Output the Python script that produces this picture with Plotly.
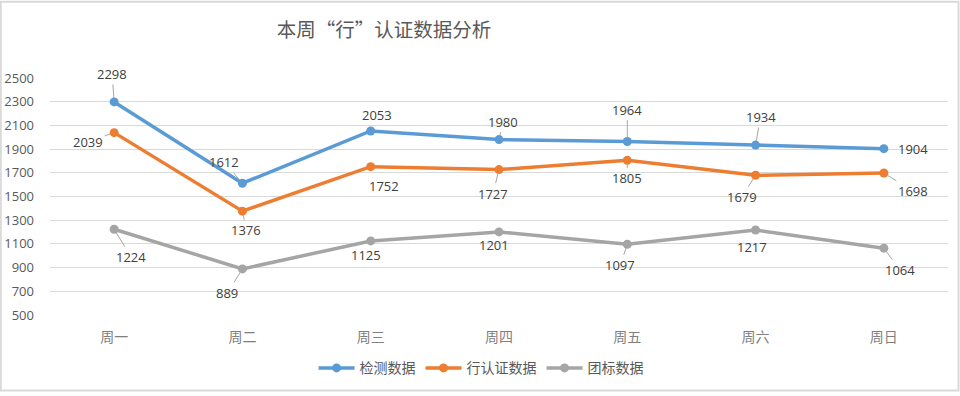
import plotly.graph_objects as go

days = ["周一", "周二", "周三", "周四", "周五", "周六", "周日"]
series_names = ["检测数据", "行认证数据", "团标数据"]
jiance = [2298, 1612, 2053, 1980, 1964, 1934, 1904]
xing = [2039, 1376, 1752, 1727, 1805, 1679, 1698]
tuanbiao = [1224, 889, 1125, 1201, 1097, 1217, 1064]
colors = ["#5B9BD5", "#ED7D31", "#A5A5A5"]
y_ticks = list(range(500, 2501, 200))
title_text = "本周“行”认证数据分析"

# label offsets (px) and leader-line visibility, per series/point
offsets = [
    [(-2, -28, True), (-18, -21, True), (6, -16, False), (4, -18, True), (0, -32, True), (5, -28, True), (29, 0, False)],
    [(-26, 9, True), (4, 19, True), (13, 19, True), (-6, 24, True), (0, 18, True), (-14, 22, True), (29, 18, True)],
    [(17, 28, True), (-15, 24, True), (-5, 14, False), (-5, 13, False), (-7, 21, True), (-4, 17, False), (16, 22, True)],
]

all_series = [jiance, xing, tuanbiao]
label_font = dict(family="Open Sans, Liberation Sans, sans-serif", size=13, color="#404040")

fig = go.Figure()
for name, vals, col in zip(series_names, all_series, colors):
    fig.add_trace(go.Scatter(
        x=days, y=vals, name=name, mode="lines+markers",
        line=dict(color=col, width=3.5),
        marker=dict(color=col, size=9),
    ))

annotations = []
for vals, offs in zip(all_series, offsets):
    for d, v, (ax, ay, show) in zip(days, vals, offs):
        if show:
            annotations.append(dict(
                x=d, y=v, xref="x", yref="y", text=str(v),
                showarrow=True, arrowhead=0, arrowwidth=1, arrowcolor="#A6A6A6",
                standoff=4, ax=ax, ay=ay, font=label_font,
            ))
        else:
            annotations.append(dict(
                x=d, y=v, xref="x", yref="y", text=str(v), showarrow=False,
                xshift=ax, yshift=-ay, font=label_font,
            ))

fig.update_layout(
    width=960, height=396,
    margin=dict(l=50, r=12, t=78, b=78),
    paper_bgcolor="white", plot_bgcolor="white",
    title=dict(text=title_text, x=0.4, xanchor="center", y=0.924, yanchor="middle",
               font=dict(family="Noto Sans CJK SC", size=19.5, color="#595959")),
    xaxis=dict(type="category", range=[-0.5, 6.5], showgrid=False, showline=False, ticks="",
               automargin=False,
               tickfont=dict(family="Noto Sans CJK SC", size=14, color="#7F7F7F"),
               ticklabelstandoff=12),
    yaxis=dict(range=[500, 2500], tickvals=y_ticks, showgrid=True, gridcolor="#D9D9D9",
               gridwidth=1, zeroline=False, showline=False, ticks="", automargin=False,
               tickfont=dict(family="Open Sans, Liberation Sans, sans-serif", size=13, color="#595959"),
               ticklabelstandoff=15),
    legend=dict(orientation="h", x=0.48, xanchor="center", y=-0.225, yanchor="middle",
                itemwidth=36, tracegroupgap=0,
                font=dict(family="Noto Sans CJK SC", size=14, color="#595959")),
    annotations=annotations,
    shapes=[dict(type="rect", xref="paper", yref="paper",
                 x0=(0.75 - 50) / 898, x1=(958.5 - 50) / 898,
                 y0=(318 - 394.5) / 240, y1=(318 - 0.75) / 240,
                 line=dict(color="#D9D9D9", width=2))],
    showlegend=True,
)

fig.write_html("out.html", config={"displayModeBar": False},
               post_script="document.body.style.margin='0';")
